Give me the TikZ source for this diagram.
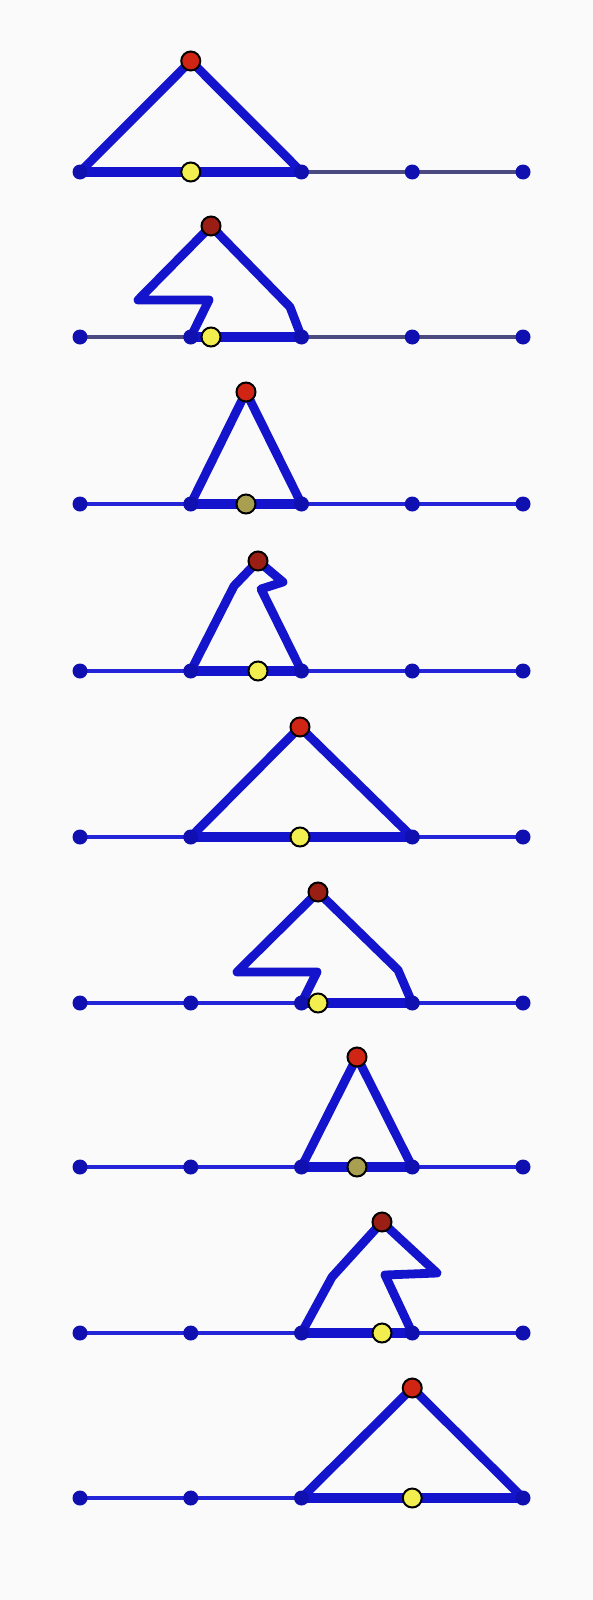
\documentclass[tikz,border=0pt]{standalone}
\begin{document}
\begin{tikzpicture}[x=0.5pt,y=-0.5pt,
  thinl/.style={line width=1.7pt,draw=linblue},
  thingray/.style={line width=1.7pt,draw=lingray},
  thickl/.style={line width=4.4pt,draw=edgeblue,line join=round,line cap=round},
  basel/.style={line width=5.2pt,draw=edgeblue,line cap=round},
  bdot/.style={circle,fill=dotblue,inner sep=0pt,minimum size=7.5pt},
  rdot/.style={circle,fill=#1,draw=black,line width=1pt,inner sep=0pt,minimum size=9.5pt},
  rdot/.default=topred,
  ydot/.style={circle,fill=#1,draw=black,line width=1pt,inner sep=0pt,minimum size=9.5pt},
  ydot/.default=midyellow]
\definecolor{bg}{HTML}{FAFAFA}
\definecolor{linblue}{HTML}{2424D8}
\definecolor{lingray}{HTML}{4A4A80}
\definecolor{edgeblue}{HTML}{1414CC}
\definecolor{dotblue}{HTML}{1010B0}
\definecolor{topred}{HTML}{D02414}
\definecolor{darkred}{HTML}{9A1E14}
\definecolor{midyellow}{HTML}{F2EE50}
\definecolor{olive}{HTML}{A8A050}
\fill[bg] (0,0) rectangle (593,1600);
\useasboundingbox (0,0) rectangle (593,1600);
\newcommand\mkrow[2]{%
  \coordinate (#1a0) at (80,0);
  \coordinate (#1a1) at (190.75,0);
  \coordinate (#1a2) at (301.5,0);
  \coordinate (#1a3) at (412.25,0);
  \coordinate (#1a4) at (523,0);
  \draw[#2] (#1a0) -- (#1a4);}
\newcommand\mkdots[1]{%
  \foreach \k in {0,...,4} {\node[bdot] (#1d\k) at (#1a\k) {};}}
% Row 1
\begin{scope}[shift={(0,172)}]
  \mkrow{p}{thingray}
  \coordinate (pt) at (190.75,-111);
  \draw[thickl] (pa0) -- (pt) -- (pa2) -- cycle;
  \draw[basel] (pa0) -- (pa2);
  \mkdots{p}
  \node[rdot] (ptop) at (pt) {};
  \node[ydot] (pmid) at (190.75,0) {};
\end{scope}
% Row 2
\begin{scope}[shift={(0,337)}]
  \mkrow{q}{thingray}
  \coordinate (qt) at (211,-111);
  \coordinate (qz1) at (209,-37);
  \coordinate (qz2) at (138,-37);
  \coordinate (qr) at (290,-30);
  \draw[thickl] (qa1) -- (qz1) -- (qz2) -- (qt) -- (qr) -- (qa2) -- cycle;
  \draw[basel] (qa1) -- (qa2);
  \mkdots{q}
  \node[rdot=darkred] (qtop) at (qt) {};
  \node[ydot] (qmid) at (211,0) {};
\end{scope}
% Row 3
\begin{scope}[shift={(0,504)}]
  \mkrow{r}{thinl}
  \coordinate (rt) at (246,-112);
  \draw[thickl] (ra1) -- (rt) -- (ra2) -- cycle;
  \draw[basel] (ra1) -- (ra2);
  \mkdots{r}
  \node[rdot] (rtop) at (rt) {};
  \node[ydot=olive] (rmid) at (246,0) {};
\end{scope}
% Row 4
\begin{scope}[shift={(0,671)}]
  \mkrow{s}{thinl}
  \coordinate (st) at (258,-110);
  \coordinate (sl) at (234,-85);
  \coordinate (sh1) at (283,-89);
  \coordinate (sh2) at (261,-82);
  \draw[thickl] (sa1) -- (sl) -- (st) -- (sh1) -- (sh2) -- (sa2) -- cycle;
  \draw[basel] (sa1) -- (sa2);
  \mkdots{s}
  \node[rdot=darkred] (stop) at (st) {};
  \node[ydot] (smid) at (258,0) {};
\end{scope}
% Row 5
\begin{scope}[shift={(0,837)}]
  \mkrow{u}{thinl}
  \coordinate (ut) at (300,-110);
  \draw[thickl] (ua1) -- (ut) -- (ua3) -- cycle;
  \draw[basel] (ua1) -- (ua3);
  \mkdots{u}
  \node[rdot] (utop) at (ut) {};
  \node[ydot] (umid) at (300,0) {};
\end{scope}
% Row 6
\begin{scope}[shift={(0,1003)}]
  \mkrow{v}{thinl}
  \coordinate (vt) at (318,-111);
  \coordinate (vz1) at (317,-31);
  \coordinate (vz2) at (237,-31);
  \coordinate (vr) at (398,-33);
  \draw[thickl] (va2) -- (vz1) -- (vz2) -- (vt) -- (vr) -- (va3) -- cycle;
  \draw[basel] (va2) -- (va3);
  \mkdots{v}
  \node[rdot=darkred] (vtop) at (vt) {};
  \node[ydot] (vmid) at (318,0) {};
\end{scope}
% Row 7
\begin{scope}[shift={(0,1167)}]
  \mkrow{w}{thinl}
  \coordinate (wt) at (357,-110);
  \draw[thickl] (wa2) -- (wt) -- (wa3) -- cycle;
  \draw[basel] (wa2) -- (wa3);
  \mkdots{w}
  \node[rdot] (wtop) at (wt) {};
  \node[ydot=olive] (wmid) at (357,0) {};
\end{scope}
% Row 8
\begin{scope}[shift={(0,1333)}]
  \mkrow{x}{thinl}
  \coordinate (xt) at (382,-111);
  \coordinate (xl) at (332,-56);
  \coordinate (xh1) at (437,-60);
  \coordinate (xh2) at (385,-58);
  \draw[thickl] (xa2) -- (xl) -- (xt) -- (xh1) -- (xh2) -- (xa3) -- cycle;
  \draw[basel] (xa2) -- (xa3);
  \mkdots{x}
  \node[rdot=darkred] (xtop) at (xt) {};
  \node[ydot] (xmid) at (382,0) {};
\end{scope}
% Row 9
\begin{scope}[shift={(0,1498)}]
  \mkrow{z}{thinl}
  \coordinate (zt) at (412.25,-110);
  \draw[thickl] (za2) -- (zt) -- (za4) -- cycle;
  \draw[basel] (za2) -- (za4);
  \mkdots{z}
  \node[rdot] (ztop) at (zt) {};
  \node[ydot] (zmid) at (412.25,0) {};
\end{scope}
\end{tikzpicture}
\end{document}
